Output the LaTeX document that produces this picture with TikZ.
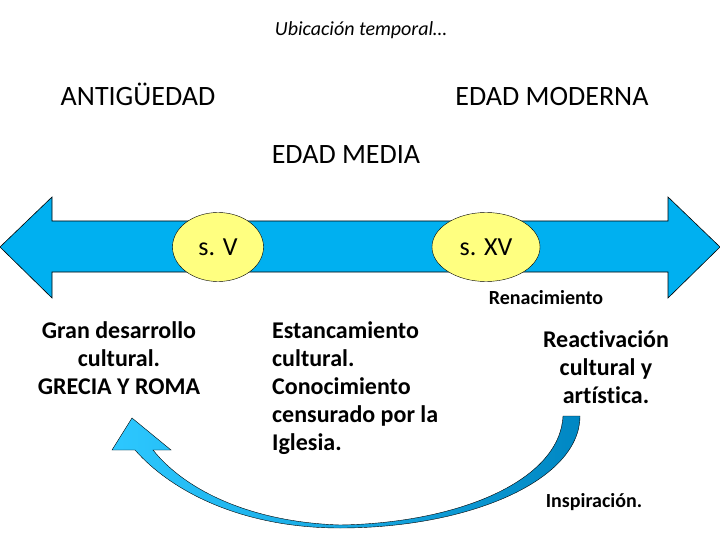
\documentclass[tikz,border=0pt]{standalone}
\usepackage{fontspec}
\setmainfont{Carlito}[Ligatures={NoCommon,NoRequired}, Contextuals=NoAlternate]
\usetikzlibrary{shapes.geometric}
\definecolor{lineablue}{RGB}{0,176,240}
\definecolor{sigloyellow}{RGB}{255,255,128}
\definecolor{curvalight}{RGB}{45,200,255}
\definecolor{curvadark}{RGB}{0,135,195}

\begin{document}
\begin{tikzpicture}[x=1pt, y=-1pt, every node/.style={inner sep=0pt},
  era/.style={font=\fontsize{28}{34}\selectfont, anchor=base},
  siglo/.style={draw, ellipse, fill=sigloyellow, minimum width=91pt, minimum height=69pt, font=\fontsize{26}{30}\selectfont},
  bloque/.style={font=\bfseries\fontsize{24}{28}\selectfont, anchor=north},
  nota/.style={font=\bfseries\fontsize{20}{24}\selectfont, anchor=base}]
  \path[use as bounding box] (0,0) rectangle (720,540);

  \node[font=\itshape\fontsize{20}{24}\selectfont, anchor=base] (titulo) at (361,36) {Ubicación temporal…};
  \node[era] (antigua) at (138,106) {ANTIGÜEDAD};
  \node[era] (moderna) at (552,106) {EDAD MODERNA};
  \node[era] (media) at (346,164) {EDAD MEDIA};

  % linea del tiempo
  \draw[fill=lineablue, line width=0.6pt] (0,247) -- (52,197) -- (52,221) -- (668,221) -- (668,197) -- (720,247)
    -- (668,298) -- (668,272) -- (52,272) -- (52,298) -- cycle;
  \node[siglo] (s5) at (218,247) {s. V};
  \node[siglo, minimum width=108pt] (s15) at (486,247) {s. XV};

  \node[nota] (rena) at (546,304) {Renacimiento};

  \node[bloque, align=center] (grecia) at (119,321) {Gran desarrollo\\cultural.\\GRECIA Y ROMA};
  \node[bloque, align=left, anchor=north west] (estanca) at (272,321) {Estancamiento\\cultural.\\Conocimiento\\censurado por la\\Iglesia.};
  \node[bloque, align=center] (reactiva) at (606,330) {Reactivación\\cultural y\\artística.};

  % flecha curva
  \draw[left color=curvalight, right color=curvadark, line width=0.4pt]
    (580,416) .. controls (580,480) and (470,528) .. (340,528)
    .. controls (240,528) and (170,490) .. (135,450) -- (112,450) -- (132,418) -- (171,450) -- (153,450)
    .. controls (185,490) and (250,522) .. (340,525)
    .. controls (460,523) and (560,480) .. (563,416) -- cycle;

  \node[nota] (inspira) at (594,507) {Inspiración.};
\end{tikzpicture}
\end{document}
